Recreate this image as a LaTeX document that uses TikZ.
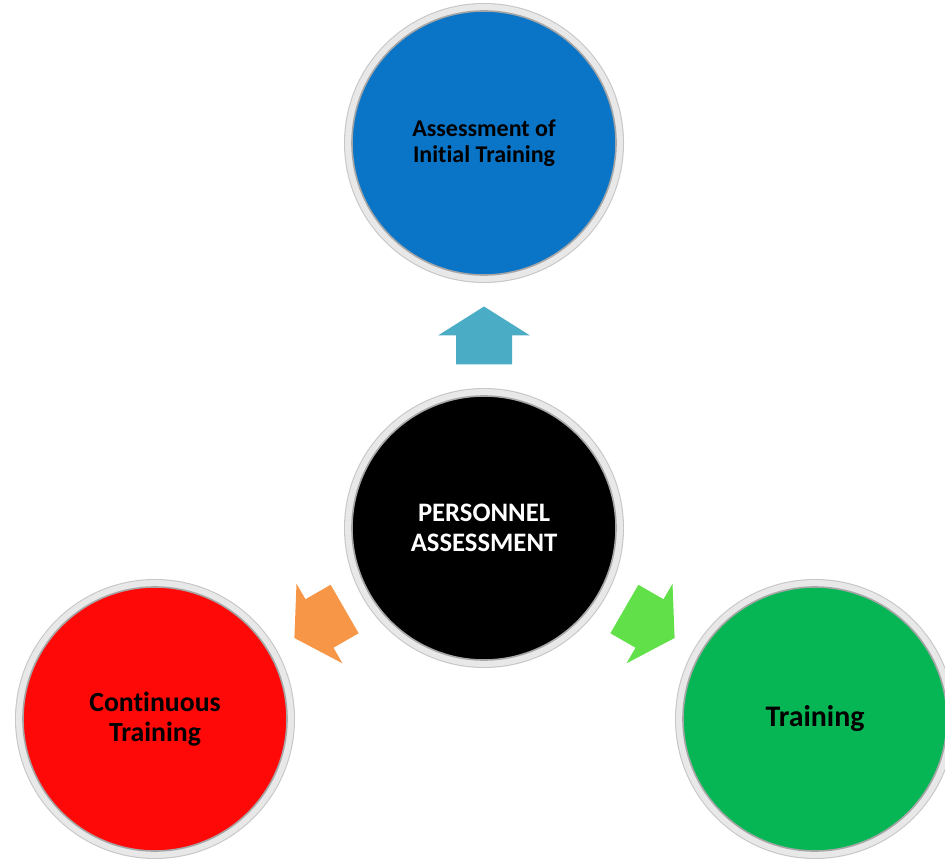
\documentclass[tikz,border=0pt]{standalone}
\usepackage{fontspec}
\setmainfont{Carlito}[Ligatures=NoCommon]
\usetikzlibrary{calc}
\definecolor{initblue}{HTML}{0A74C6}
\definecolor{contred}{HTML}{FE0808}
\definecolor{traingreen}{HTML}{06B655}
\definecolor{uparrow}{HTML}{4BACC6}
\definecolor{leftarrow}{HTML}{F79646}
\definecolor{rightarrow}{HTML}{62E04A}
\begin{document}
\begin{tikzpicture}
	[	x=0.75pt,y=-0.75pt,
		disc/.style={circle,minimum size=198pt,inner sep=0pt,draw=gray!70,line width=1.2pt,align=center,
			preaction={draw=gray!45,line width=12pt},
			preaction={draw=white!91!black,line width=10.4pt}},
		blockarrow/.pic={\fill (29,0) -- (0,46) -- (0,28) -- (-29,28) -- (-29,-28) -- (0,-28) -- (0,-46) -- cycle;}
	]
	\useasboundingbox (0,0) rectangle (945,862);

	\node[disc,fill=initblue,font=\bfseries\fontsize{18}{19.5}\selectfont] (init) at (484,143) {Assessment of\\Initial Training};
	\node[disc,fill=black,text=white,font=\bfseries\fontsize{20}{22.5}\selectfont] (core) at (484,528) {PERSONNEL\\ASSESSMENT};
	\node[disc,fill=contred,font=\bfseries\fontsize{20.8}{22.5}\selectfont] (cont) at (155,719) {Continuous\\Training};
	\node[disc,fill=traingreen,font=\bfseries\fontsize{22.4}{24}\selectfont] (train) at (815,719) {Training};

	\pic[rotate=90,fill=uparrow] at ($(core)!.5!(init)$) {blockarrow};
	\pic[rotate=210,fill=leftarrow] at ($(core)!.5!(cont)$) {blockarrow};
	\pic[rotate=330,fill=rightarrow] at ($(core)!.5!(train)$) {blockarrow};
\end{tikzpicture}
\end{document}
